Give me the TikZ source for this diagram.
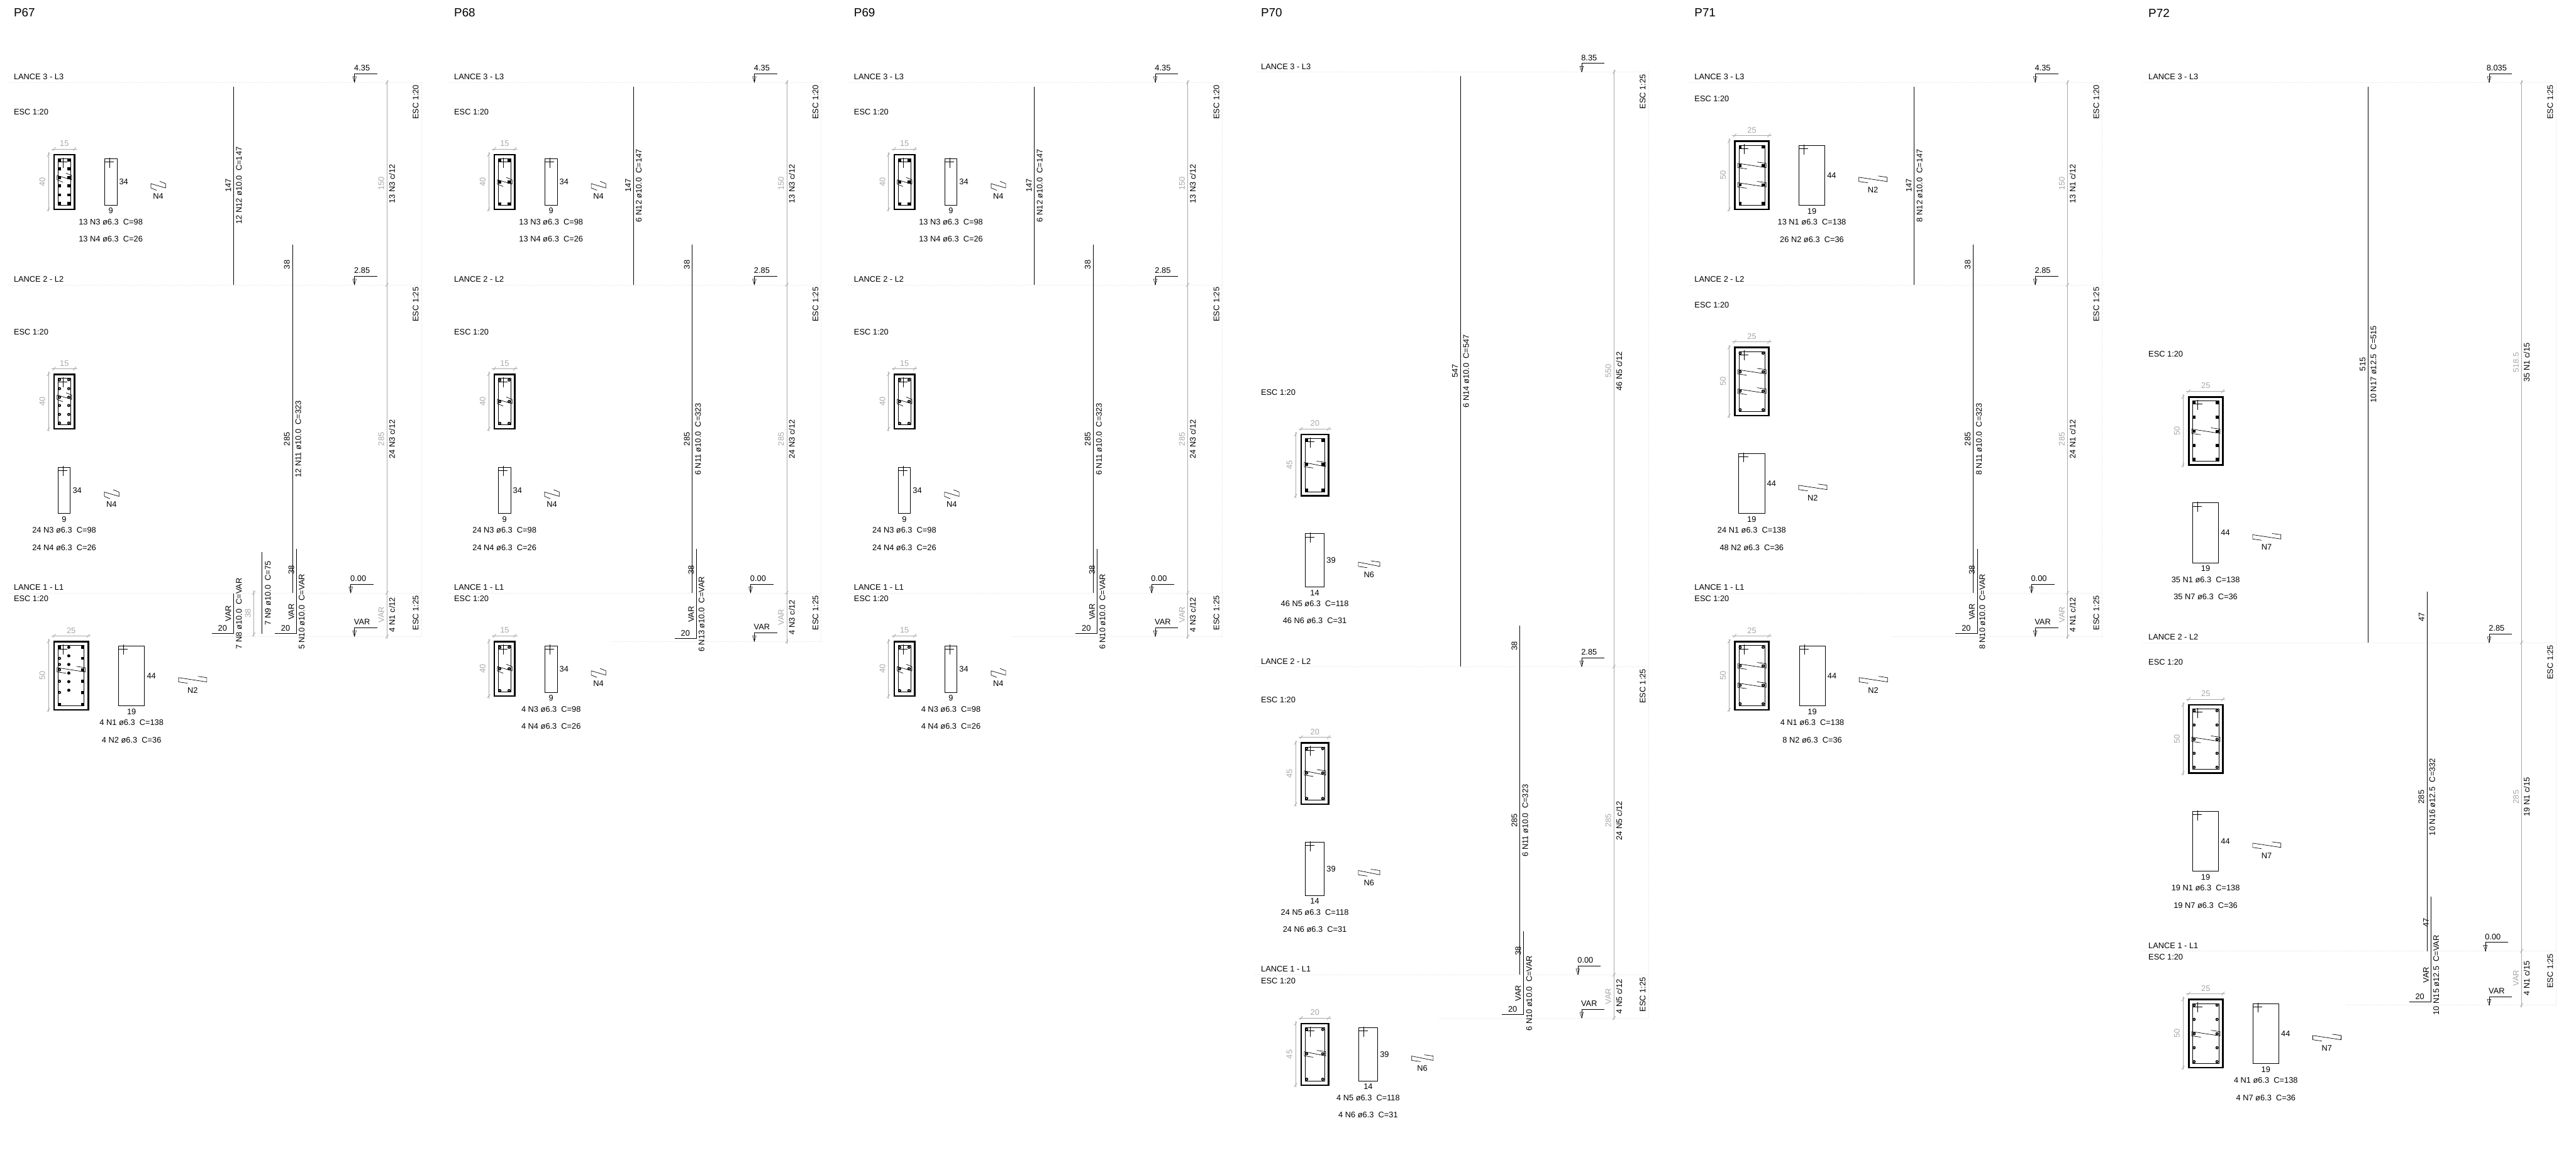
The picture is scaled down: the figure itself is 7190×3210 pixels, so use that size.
\documentclass[tikz,border=0pt]{standalone}
\usepackage{fontspec}
\setmainfont{Liberation Sans}
\usetikzlibrary{positioning}
\definecolor{cinza}{HTML}{A8A8A8}
\definecolor{claro}{HTML}{DEDEDE}
\tikzset{
  txt/.style={inner sep=0pt,font=\fontsize{6.4}{7.7}\selectfont},
  tit/.style={txt,anchor=west,font=\fontsize{9.4}{11}\selectfont},
  esq/.style={txt,anchor=west},
  rot/.style={txt,rotate=90},
  rotc/.style={rot,text=cinza},
  txtc/.style={txt,text=cinza},
  linha/.style={line width=.34pt},
  ferro/.style={line width=.5pt},
  concreto/.style={line width=1.3pt},
  cota/.style={line width=.4pt,draw=cinza},
  nivel/.style={line width=.25pt,draw=claro,densely dotted}
}
% barras
\newcommand{\barq}[2]{\fill (#1-4.2,#2-4.2) rectangle (#1+4.2,#2+4.2);}
\newcommand{\barc}[2]{\fill (#1,#2) circle[radius=4.4];}
\newcommand{\barr}[2]{\fill (#1,#2) circle[radius=4.4];\fill[white] (#1,#2) circle[radius=1.5];}
\newcommand{\cruz}[2]{\draw[linha] (#1+14,#2-3) -- (#1+14,#2+25) (#1,#2+9) -- (#1+26,#2+9);}
\newcommand{\traco}[2]{\draw[cota] (#1-4,#2+5) -- (#1+4,#2-5);}
% grampo: canto (x,y), largura
\newcommand{\grampo}[3]{%
  \pgfmathsetmacro{\gw}{#3}\pgfmathsetmacro{\gh}{\gw<50?16:25}\pgfmathsetmacro{\gv}{\gw<50?6.5:3.5}
  \draw[linha] (#1+\gh,#2+12+\gv) -- (#1,#2+12) -- (#1,#2) -- (#1+\gw,#2+12) -- (#1+\gw,#2) -- (#1+\gw-\gh,#2-\gv);}
% secao: x, y, b, h, tipo de barra, colunas, linhas, linhas dos grampos
\newcommand{\secao}[8]{%
  \pgfmathsetmacro{\wpx}{#3*3.81}\pgfmathsetmacro{\hpx}{#4*3.81}
  \begin{scope}[shift={(#1,#2)}]
    \draw[concreto] (0,0) rectangle (\wpx,\hpx);
    \draw[linha] (11.4,11.4) rectangle (\wpx-11.4,\hpx-11.4);
    \cruz{11.4}{11.4}
    \foreach \bx in {#6} \foreach \by in {#7} {#5{\bx}{\by}}
    \foreach \gy in {#8} {\grampo{8.4}{\gy-6}{\wpx-16.3}}
    \draw[cota] (-7,-16) -- (\wpx+7,-16) (-16,-7) -- (-16,\hpx+6);
    \traco{0}{-16}\traco{\wpx}{-16}\traco{-16}{0}\traco{-16}{\hpx}
    \node[txtc] at (\wpx/2,-31) {#3};
    \node[rotc] at (-33,\hpx/2) {#4};
  \end{scope}}
% estribo: x, y, b, h, nome do grampo, textos
\newcommand{\estribo}[7]{%
  \pgfmathsetmacro{\wpx}{#3*3.81}\pgfmathsetmacro{\hpx}{#4*3.81}
  \begin{scope}[shift={(#1,#2)}]
    \draw[linha] (0,0) rectangle (\wpx,\hpx);
    \cruz{0}{0}
    \node[txt] at (\wpx+19,\hpx/2) {#4};
    \node[txt] at (\wpx/2,\hpx+16) {#3};
    \grampo{\wpx+95}{\hpx/2+5}{\wpx+6.5}
    \node[txt] at (1.5*\wpx+98,\hpx/2+40) {#5};
    \node[txt] at (\wpx/2,\hpx+47) {#6};
    \node[txt] at (\wpx/2,\hpx+95) {#7};
  \end{scope}}
\newcommand{\marca}[3]{%
  \draw[linha] (#1+64,#2-24) -- (#1,#2-24) -- (#1,#2);
  \draw[line width=.25pt] (#1-5,#2-16) -- (#1+5,#2-16) -- (#1,#2) -- cycle;
  \node[txt] at (#1+21,#2-40) {#3};}
% x0, L3, L2, L1, base, ESC L3, ESC L2, cota topo, escala topo
\newcommand{\lances}[9]{%
  \node[esq] at (#1+38,#2-15) {LANCE 3 - L3};
  \node[esq] at (#1+38,#3-15) {LANCE 2 - L2};
  \node[esq] at (#1+38,#4-15) {LANCE 1 - L1};
  \node[esq] at (#1+38,#6) {ESC 1:20};
  \node[esq] at (#1+38,#7) {ESC 1:20};
  \node[esq] at (#1+38,#4+17) {ESC 1:20};
  \draw[nivel] (#1+23,#2) -- (1176,#2) (#1+23,#3) -- (1176,#3) (#1+23,#4) -- (1176,#4)
    (590,#5) -- (1176,#5) (1176,#2) -- (1176,#5);
  \draw[cota] (1080,#2-6) -- (1080,#5+6);
  \foreach \q in {#2,#3,#4,#5} {\traco{1080}{\q}}
  \marca{989.5}{#2}{#8}
  \marca{989.5}{#3}{2.85}
  \marca{979}{#4}{0.00}
  \marca{989.5}{#5}{VAR}
  \node[rot] at (1160,#2+55) {ESC 1:#9};
  \node[rot] at (1160,#3+55) {ESC 1:25};
  \node[rot] at (1160,#4+56) {ESC 1:25};}
\newcommand{\cotav}[3]{%
  \node[rotc] at (1064,#1) {#2};
  \node[rot] at (1094,#1) {#3};}
% ferros dos pilares de 3 lances iguais
\newcommand{\ferros}[4]{%
  \draw[ferro] (652,242) -- (652,795);
  \node[rot] at (637,518) {147};
  \node[rot] at (667,518) {#2};
  \draw[ferro] (816.6,682) -- (816.6,1655);
  \node[rot] at (801,739) {38};
  \node[rot] at (801,1226) {285};
  \node[rot] at (832.6,1226) {#3};
  \node[rot] at (813,1591) {38};
  \draw[ferro] (767,#1-9) -- (828,#1-9) -- (828,1533);
  \node[txt] at (797,#1-24) {20};
  \node[rot] at (813,{(1655+#1)/2-8}) {VAR};
  \node[rot] at (842,{(1655+#1)/2-8}) {#4};}

\begin{document}
\begin{tikzpicture}[x=0.01cm,y=-0.01cm]
\path[use as bounding box,fill=white] (0,0) rectangle (7190,3210);

% P67
\node[tit] at (38,36) {P67};
\lances{0}{230}{795}{1655}{1777}{313}{926.5}{4.35}{20}
\cotav{513}{150}{13 N3 c/12}
\cotav{1226}{285}{24 N3 c/12}
\cotav{1716}{VAR}{4 N1 c/12}
\ferros{1777}{12 N12 ø10.0~~C=147}{12 N11 ø10.0~~C=323}{5 N10 ø10.0~~C=VAR}
\draw[ferro] (591,1768) -- (652,1768) -- (652,1657);
\node[txt] at (621,1753) {20};
\node[rot] at (637,1713) {VAR};
\node[rot] at (667,1713) {7 N8 ø10.0~~C=VAR};
\draw[ferro] (731,1542) -- (731,1770);
\node[rot] at (748,1656) {7 N9 ø10.0~~C=75};
\draw[cota] (708.5,1649) -- (708.5,1777);
\traco{708.5}{1655}\traco{708.5}{1771}
\node[rotc] at (692,1713) {38};
\secao{151}{432}{15}{40}{\barq}{15,41}{15,40,64,87,112,136}{64}
\estribo{292}{443}{9}{34}{N4}{13 N3 ø6.3~~C=98}{13 N4 ø6.3~~C=26}
\secao{151}{1045}{15}{40}{\barr}{15,41}{15,40,64,87,112,136}{64}
\estribo{162}{1304}{9}{34}{N4}{24 N3 ø6.3~~C=98}{24 N4 ø6.3~~C=26}
\secao{151}{1791}{25}{50}{\barq}{15,79}{16,175}{79}
\begin{scope}[shift={(151,1791)}]
  \foreach \by in {47,79,111,142} {\barq{79}{\by}}
  \foreach \by in {47,64,79,111,142} {\barr{15}{\by}}
  \foreach \by in {16,40,64,88,112,136} {\barc{41}{\by}}
\end{scope}
\estribo{331}{1803}{19}{44}{N2}{4 N1 ø6.3~~C=138}{4 N2 ø6.3~~C=36}

% P68
\begin{scope}[shift={(1229,0)}]
\node[tit] at (38,36) {P68};
\secao{151}{432}{15}{40}{\barq}{15,41}{16,76,137}{76}
\estribo{292}{443}{9}{34}{N4}{13 N3 ø6.3~~C=98}{13 N4 ø6.3~~C=26}
\secao{151}{1045}{15}{40}{\barr}{15,41}{16,76,137}{76}
\estribo{162}{1304}{9}{34}{N4}{24 N3 ø6.3~~C=98}{24 N4 ø6.3~~C=26}
\secao{151}{1791}{15}{40}{\barr}{15,41}{16,76,137}{76}
\estribo{292}{1803}{9}{34}{N4}{4 N3 ø6.3~~C=98}{4 N4 ø6.3~~C=26}
\end{scope}
\begin{scope}[shift={(1116,0)}]
\lances{113}{230}{795}{1655}{1791}{313}{926.5}{4.35}{20}
\cotav{513}{150}{13 N3 c/12}
\cotav{1226}{285}{24 N3 c/12}
\cotav{1723}{VAR}{4 N3 c/12}
\ferros{1791}{6 N12 ø10.0~~C=147}{6 N11 ø10.0~~C=323}{6 N13 ø10.0~~C=VAR}
\end{scope}

% P69
\begin{scope}[shift={(2345,0)}]
\node[tit] at (38,36) {P69};
\secao{151}{432}{15}{40}{\barq}{15,41}{16,76,137}{76}
\estribo{292}{443}{9}{34}{N4}{13 N3 ø6.3~~C=98}{13 N4 ø6.3~~C=26}
\secao{151}{1045}{15}{40}{\barr}{15,41}{16,76,137}{76}
\estribo{162}{1304}{9}{34}{N4}{24 N3 ø6.3~~C=98}{24 N4 ø6.3~~C=26}
\secao{151}{1791}{15}{40}{\barr}{15,41}{16,76,137}{76}
\estribo{292}{1803}{9}{34}{N4}{4 N3 ø6.3~~C=98}{4 N4 ø6.3~~C=26}
\end{scope}
\begin{scope}[shift={(2235,0)}]
\lances{110}{230}{795}{1655}{1777}{313}{926.5}{4.35}{20}
\cotav{513}{150}{13 N3 c/12}
\cotav{1226}{285}{24 N3 c/12}
\cotav{1716}{VAR}{4 N3 c/12}
\ferros{1777}{6 N12 ø10.0~~C=147}{6 N11 ø10.0~~C=323}{6 N10 ø10.0~~C=VAR}
\end{scope}

% P70
\begin{scope}[shift={(3481,0)}]
\node[tit] at (38,36) {P70};
\secao{151}{1213}{20}{45}{\barq}{15,60}{16,84,155}{84}
\estribo{162}{1490}{14}{39}{N6}{46 N5 ø6.3~~C=118}{46 N6 ø6.3~~C=31}
\secao{151}{2074}{20}{45}{\barr}{15,60}{16,84,155}{84}
\estribo{162}{2351}{14}{39}{N6}{24 N5 ø6.3~~C=118}{24 N6 ø6.3~~C=31}
\secao{151}{2858}{20}{45}{\barr}{15,60}{16,84,155}{84}
\estribo{311}{2869}{14}{39}{N6}{4 N5 ø6.3~~C=118}{4 N6 ø6.3~~C=31}
\end{scope}
\begin{scope}[shift={(3425,0)}]
\lances{56}{201}{1861}{2721}{2842}{1096}{1954}{8.35}{25}
\cotav{1036}{550}{46 N5 c/12}
\cotav{2291}{285}{24 N5 c/12}
\cotav{2782}{VAR}{4 N5 c/12}
\draw[ferro] (652,212) -- (652,1861);
\node[rot] at (636,1036) {547};
\node[rot] at (667,1036) {6 N14 ø10.0~~C=547};
\draw[ferro] (817,1747) -- (817,2721);
\node[rot] at (802,1804) {38};
\node[rot] at (802,2291) {285};
\node[rot] at (832,2291) {6 N11 ø10.0~~C=323};
\node[rot] at (812.5,2655) {38};
\draw[ferro] (767,2833) -- (827,2833) -- (827,2599);
\node[txt] at (797,2818) {20};
\node[rot] at (812.5,2773) {VAR};
\node[rot] at (843,2773) {6 N10 ø10.0~~C=VAR};
\end{scope}

% P71
\begin{scope}[shift={(4691,0)}]
\node[tit] at (38,36) {P71};
\lances{0}{230}{795}{1655}{1777}{275}{851.5}{4.35}{20}
\cotav{513}{150}{13 N1 c/12}
\cotav{1226}{285}{24 N1 c/12}
\cotav{1716}{VAR}{4 N1 c/12}
\ferros{1777}{8 N12 ø10.0~~C=147}{8 N11 ø10.0~~C=323}{8 N10 ø10.0~~C=VAR}
\secao{151}{394}{25}{50}{\barq}{15,79}{16,68,122,174}{68,122}
\estribo{330}{406}{19}{44}{N2}{13 N1 ø6.3~~C=138}{26 N2 ø6.3~~C=36}
\secao{151}{970}{25}{50}{\barr}{15,79}{16,68,122,174}{68,122}
\estribo{162}{1266}{19}{44}{N2}{24 N1 ø6.3~~C=138}{48 N2 ø6.3~~C=36}
\secao{151}{1791}{25}{50}{\barr}{15,79}{16,68,122,174}{68,122}
\estribo{331}{1803}{19}{44}{N2}{4 N1 ø6.3~~C=138}{8 N2 ø6.3~~C=36}
\end{scope}

% P72
\begin{scope}[shift={(5958,0)}]
\node[tit] at (38,36) {P72};
\lances{0}{230}{1794}{2655}{2806}{989}{1849}{8.035}{25}
\cotav{1012}{518.5}{35 N1 c/15}
\cotav{2225}{285}{19 N1 c/15}
\cotav{2731}{VAR}{4 N1 c/15}
\draw[ferro] (652,243) -- (652,1794);
\node[rot] at (636.5,1017) {515};
\node[rot] at (666.5,1017) {10 N17 ø12.5~~C=515};
\draw[ferro] (816.5,1652) -- (816.5,2655);
\node[rot] at (801,1723) {47};
\node[rot] at (800,2225) {285};
\node[rot] at (831,2225) {10 N16 ø12.5~~C=332};
\node[rot] at (813,2576) {47};
\draw[ferro] (767,2797) -- (827,2797) -- (827,2503);
\node[txt] at (796,2783) {20};
\node[rot] at (813,2722) {VAR};
\node[rot] at (842,2722) {10 N15 ø12.5~~C=VAR};
\secao{151}{1108}{25}{50}{\barq}{15,79}{16,56,96,135,174}{96}
\estribo{162}{1404}{19}{44}{N7}{35 N1 ø6.3~~C=138}{35 N7 ø6.3~~C=36}
\secao{151}{1968}{25}{50}{\barr}{15,79}{16,56,96,135,174}{96}
\estribo{162}{2265}{19}{44}{N7}{19 N1 ø6.3~~C=138}{19 N7 ø6.3~~C=36}
\secao{151}{2790}{25}{50}{\barr}{15,79}{16,56,96,135,174}{96}
\estribo{330}{2802}{19}{44}{N7}{4 N1 ø6.3~~C=138}{4 N7 ø6.3~~C=36}
\end{scope}
\end{tikzpicture}
\end{document}
